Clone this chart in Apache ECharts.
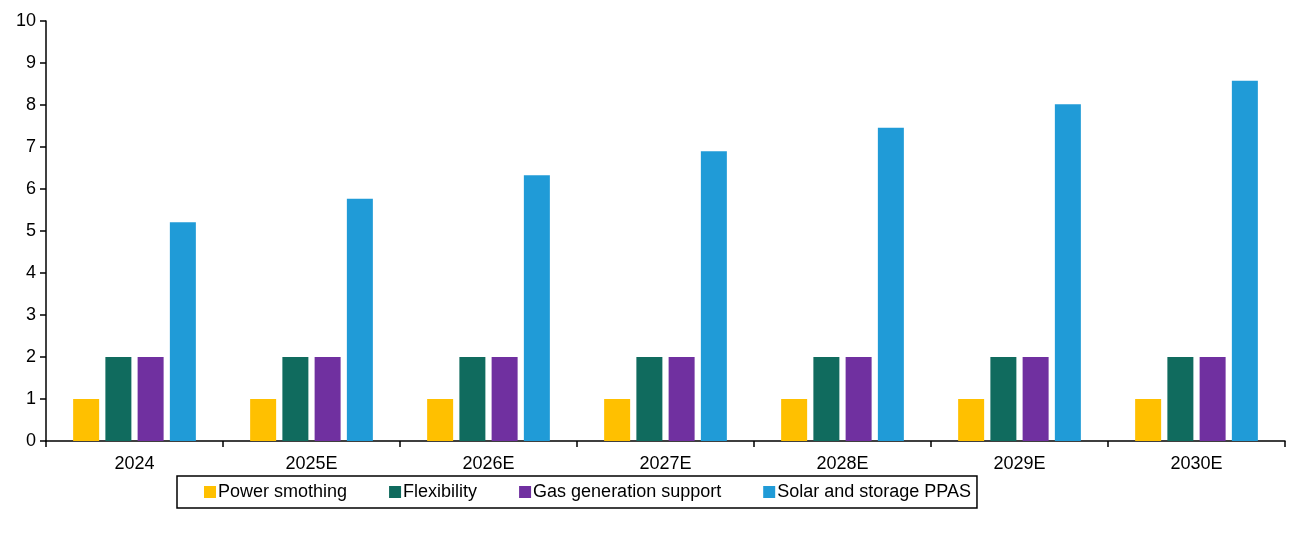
<!DOCTYPE html>
<html><head><meta charset="utf-8">
<script src="https://cdn.jsdelivr.net/npm/echarts@6/dist/echarts.min.js"></script>
<style>html,body{margin:0;padding:0;background:#fff}#c{width:1289px;height:537px}</style>
</head><body><div id="c"></div>
<script>
const categories = ['2024','2025E','2026E','2027E','2028E','2029E','2030E'];
const powerSmothing = [1,1,1,1,1,1,1];
const flexibility = [2,2,2,2,2,2,2];
const gasSupport = [2,2,2,2,2,2,2];
const solarStorage = [5.21,5.77,6.33,6.9,7.46,8.02,8.58];
const names = ['Power smothing','Flexibility','Gas generation support','Solar and storage PPAS'];
const colors = ['#FFC000','#106B5E','#7030A0','#209BD7'];
const font = {fontFamily:'Liberation Sans, Arial', fontSize:18, color:'#000'};
const chart = echarts.init(document.getElementById('c'));
const data = [powerSmothing, flexibility, gasSupport, solarStorage];
chart.setOption({
  animation:false,
  grid:{left:46,right:4,top:21,bottom:96,containLabel:false},
  legend:{left:177,top:476,padding:[7,6,7,27],borderColor:'#000',borderWidth:1.5,
    itemWidth:12,itemHeight:12,itemGap:42,icon:'rect',textStyle:{...font,padding:[0,0,0,-3]},data:names},
  xAxis:{type:'category',data:categories,
    axisLine:{lineStyle:{color:'#000',width:1.5}},
    axisTick:{show:true,lineStyle:{color:'#000',width:1.5},length:6},
    axisLabel:{...font,margin:14}},
  yAxis:{type:'value',min:0,max:10,interval:1,
    axisLine:{show:true,lineStyle:{color:'#000',width:1.5}},
    axisTick:{show:true,inside:false,length:6,lineStyle:{color:'#000',width:1.5}},
    splitLine:{show:false},axisLabel:{...font,margin:10}},
  series:data.map((d,i)=>({name:names[i],type:'bar',data:d,barWidth:26,barGap:'24%',
    itemStyle:{color:colors[i]}}))
});
</script></body></html>
